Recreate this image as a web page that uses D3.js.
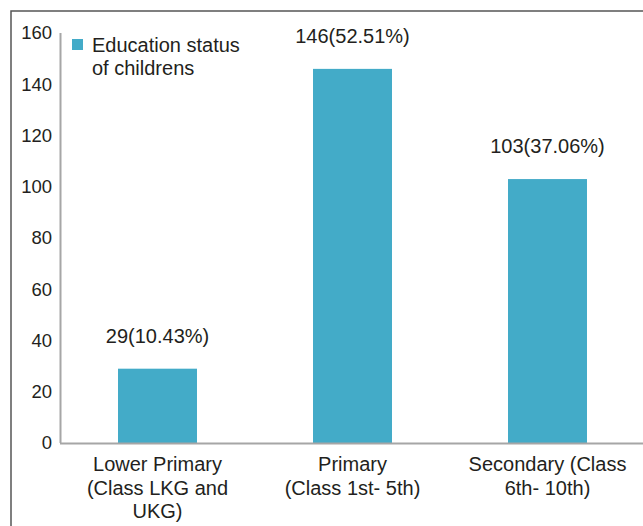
<!DOCTYPE html>
<html><head><meta charset="utf-8">
<script src="https://cdn.jsdelivr.net/npm/d3@7"></script>
<style>html,body{margin:0;padding:0;background:#fff;}svg{display:block;}</style>
</head><body>
<script>
const categories = [["Lower Primary","(Class LKG and","UKG)"],["Primary","(Class 1st- 5th)"],["Secondary (Class","6th- 10th)"]];
const values = [29, 146, 103];
const valueLabels = ["29(10.43%)","146(52.51%)","103(37.06%)"];
const yTicks = [0,20,40,60,80,100,120,140,160];
const seriesName = ["Education status","of childrens"];

const W = 643, H = 526;
const svg = d3.select("body").append("svg").attr("width", W).attr("height", H);
const font = "'Liberation Sans', Arial, sans-serif";
const textColor = "#231f20";
const barColor = "#43abc8";

// outer frame
svg.append("rect").attr("x",11).attr("y",11).attr("width",700).attr("height",600)
  .attr("fill","none").attr("stroke","#555").attr("stroke-width",1.5);

const x = d3.scaleBand().domain(d3.range(values.length)).range([60,645])
  .paddingInner(0.595).paddingOuter(0.2975);
const y = d3.scaleLinear().domain([0,160]).range([443,33]);

// y axis line
svg.append("line").attr("x1",60.5).attr("x2",60.5).attr("y1",y(160)).attr("y2",y(0))
  .attr("stroke","#a6a6a6").attr("stroke-width",2);

// y tick labels
svg.selectAll("text.ytick").data(yTicks).join("text").attr("class","ytick")
  .attr("x",52).attr("y",d=>y(d)).attr("dy","0.35em").attr("text-anchor","end")
  .attr("font-family",font).attr("font-size",18.5).attr("fill",textColor).text(d=>d);

// bars
svg.selectAll("rect.bar").data(values).join("rect").attr("class","bar")
  .attr("x",(d,i)=>x(i)).attr("width",x.bandwidth())
  .attr("y",d=>y(d)).attr("height",d=>y(0)-y(d)).attr("fill",barColor);

// x axis line
svg.append("line").attr("x1",60).attr("x2",W).attr("y1",443.5).attr("y2",443.5)
  .attr("stroke","#a6a6a6").attr("stroke-width",2);

// value labels
svg.selectAll("text.val").data(values).join("text").attr("class","val")
  .attr("x",(d,i)=>x(i)+x.bandwidth()/2).attr("y",d=>y(d)-26)
  .attr("text-anchor","middle").attr("font-family",font).attr("font-size",20)
  .attr("fill",textColor).text((d,i)=>valueLabels[i]);

// category labels
categories.forEach((lines,i)=>{
  const t = svg.append("text").attr("text-anchor","middle").attr("font-family",font)
    .attr("font-size",20).attr("fill",textColor);
  lines.forEach((ln,j)=>{
    t.append("tspan").attr("x",x(i)+x.bandwidth()/2).attr("y",471+j*23.5).text(ln);
  });
});

// legend
svg.append("rect").attr("x",72).attr("y",39).attr("width",11).attr("height",11).attr("fill",barColor);
const lt = svg.append("text").attr("font-family",font).attr("font-size",20).attr("fill",textColor);
seriesName.forEach((ln,j)=>{
  lt.append("tspan").attr("x",92).attr("y",52+j*23).text(ln);
});
</script>
</body></html>
